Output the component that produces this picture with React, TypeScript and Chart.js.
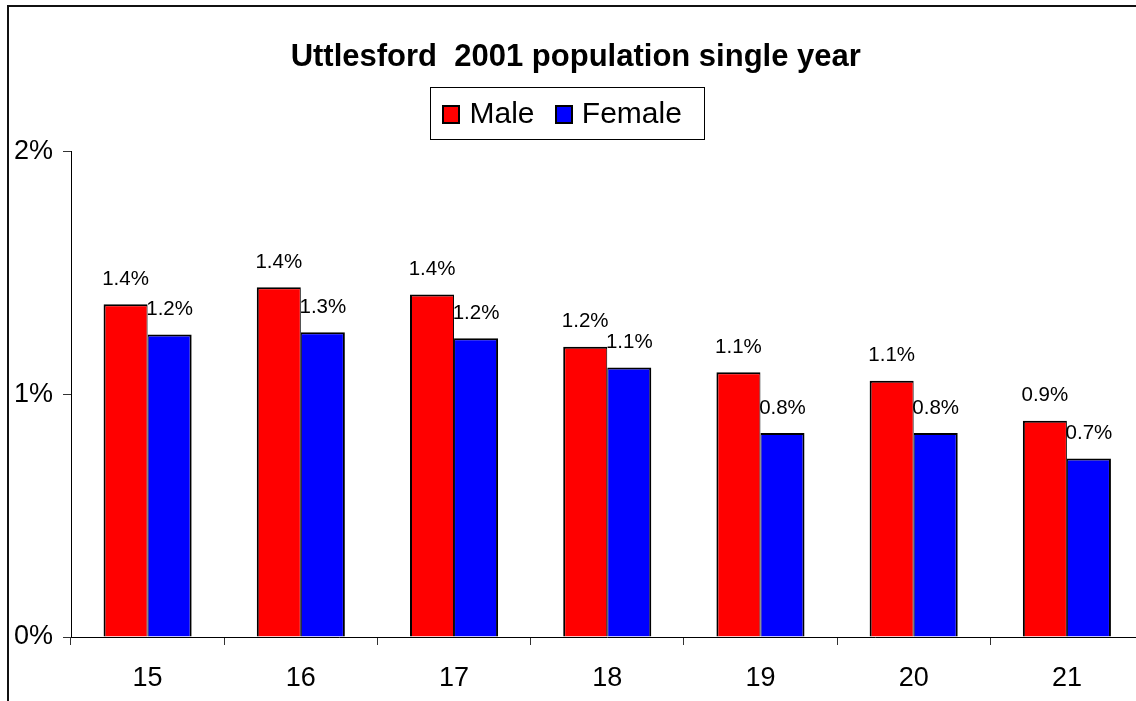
import React, { useEffect, useRef } from "react";
import { Chart, registerables } from "chart.js";

Chart.register(...registerables);

const categories = ["15", "16", "17", "18", "19", "20", "21"];
const maleValues = [1.37, 1.44, 1.41, 1.195, 1.09, 1.055, 0.89];
const femaleValues = [1.245, 1.255, 1.23, 1.11, 0.84, 0.84, 0.735];
const seriesNames = ["Male", "Female"];
const seriesColors = ["#FF0000", "#0000FF"];
const titleText = "Uttlesford  2001 population single year";
const yMin = 0;
const yMax = 2;
const yStep = 1;

const FONT = '"Liberation Sans", Arial, sans-serif';

export default function App() {
  const canvasRef = useRef<HTMLCanvasElement | null>(null);

  useEffect(() => {
    const canvas = canvasRef.current;
    if (!canvas) return;

    const framePlugin = {
      id: "frame",
      beforeDraw(chart: any) {
        const ctx = chart.ctx;
        ctx.save();
        ctx.fillStyle = "#ffffff";
        ctx.fillRect(0, 0, chart.width, chart.height);
        ctx.strokeStyle = "#111111";
        ctx.lineWidth = 2;
        ctx.strokeRect(8, 6, 3000, 3000);
        ctx.restore();
      },
    };

    const labelsPlugin = {
      id: "barLabels",
      afterDatasetsDraw(chart: any) {
        const ctx = chart.ctx;
        ctx.save();
        ctx.font = `20.5px ${FONT}`;
        ctx.fillStyle = "#000";
        ctx.textAlign = "center";
        ctx.textBaseline = "middle";
        chart.data.datasets.forEach((ds: any, i: number) => {
          const meta = chart.getDatasetMeta(i);
          meta.data.forEach((bar: any, j: number) => {
            const v = ds.data[j] as number;
            ctx.fillText(v.toFixed(1) + "%", bar.x, bar.y - 25);
          });
        });
        ctx.restore();
      },
    };

    const legendPlugin = {
      id: "boxLegend",
      afterDraw(chart: any) {
        const ctx = chart.ctx;
        ctx.save();
        ctx.strokeStyle = "#000";
        ctx.lineWidth = 1;
        ctx.strokeRect(430.5, 87.5, 274, 52);
        const boxXs = [442, 555];
        const textXs = [469.5, 581.8];
        ctx.font = `30px ${FONT}`;
        ctx.textBaseline = "middle";
        ctx.textAlign = "left";
        seriesNames.forEach((name, i) => {
          ctx.fillStyle = seriesColors[i];
          ctx.fillRect(boxXs[i], 105, 17, 18);
          ctx.lineWidth = 2;
          ctx.strokeStyle = "#000";
          ctx.strokeRect(boxXs[i] + 1, 106, 16, 17);
          ctx.fillStyle = "#000";
          ctx.fillText(name, textXs[i], 114.5);
        });
        ctx.restore();
      },
    };

    const chart = new Chart(canvas, {
      type: "bar",
      data: {
        labels: categories,
        datasets: [
          {
            label: seriesNames[0],
            data: maleValues,
            backgroundColor: seriesColors[0],
            borderColor: "#000",
            borderWidth: { top: 2, left: 2, right: 1, bottom: 0 },
            borderSkipped: false,
            barPercentage: 1,
            categoryPercentage: 0.575,
          },
          {
            label: seriesNames[1],
            data: femaleValues,
            backgroundColor: seriesColors[1],
            borderColor: "#000",
            borderWidth: { top: 2, left: 1, right: 2, bottom: 0 },
            borderSkipped: false,
            barPercentage: 1,
            categoryPercentage: 0.575,
          },
        ],
      },
      options: {
        responsive: false,
        animation: false,
        devicePixelRatio: 1,
        layout: { padding: { top: 39, left: 8, right: 56.5, bottom: 0 } },
        plugins: {
          legend: { display: false },
          tooltip: { enabled: false },
          title: {
            display: true,
            text: titleText,
            color: "#000",
            font: { family: FONT, size: 31, weight: "bold" },
            padding: { top: 0, bottom: 75 },
          },
        },
        scales: {
          x: {
            grid: {
              offset: true,
              drawOnChartArea: false,
              drawTicks: true,
              tickLength: 8,
              color: "#333",
            },
            border: { display: true, color: "#000", width: 1 },
            ticks: {
              color: "#000",
              font: { family: FONT, size: 27 },
              padding: 17,
              maxRotation: 0,
              autoSkip: false,
            },
            afterFit: (s: any) => {
              s.height = 64;
            },
          },
          y: {
            min: yMin,
            max: yMax,
            grid: {
              drawOnChartArea: false,
              drawTicks: true,
              tickLength: 8,
              color: "#333",
            },
            border: { display: true, color: "#000", width: 1 },
            ticks: {
              stepSize: yStep,
              color: "#000",
              font: { family: FONT, size: 27 },
              padding: 10,
              callback: (v: any) => v + "%",
            },
            afterFit: (s: any) => {
              s.width = 63;
            },
          },
        },
      },
      plugins: [framePlugin, labelsPlugin, legendPlugin],
    });

    return () => chart.destroy();
  }, []);

  return (
    <div
      style={{
        position: "fixed",
        left: 0,
        top: 0,
        width: 1136,
        height: 701,
        overflow: "hidden",
        background: "#fff",
      }}
    >
      <canvas
        ref={canvasRef}
        width={1200}
        height={701}
        style={{ display: "block", width: 1200, height: 701 }}
      />
    </div>
  );
}
